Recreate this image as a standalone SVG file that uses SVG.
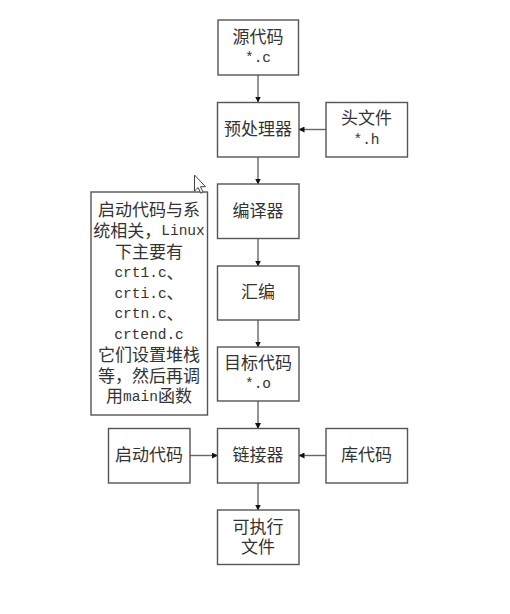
<svg xmlns="http://www.w3.org/2000/svg" width="510" height="614" viewBox="0 0 510 614">
<style>
.box{fill:#fff;stroke:#555;stroke-width:1.4}
.t{font-family:"Liberation Serif","Noto Sans CJK SC",serif;font-size:17px;fill:#333;text-anchor:middle;dominant-baseline:central}
.m{font-family:"Liberation Mono","Noto Sans CJK SC",monospace;font-size:14.5px}
.c{stroke:#666;stroke-width:1.4;fill:none;marker-end:url(#ah)}
</style>
<defs>
<marker id="ah" markerWidth="6" markerHeight="6" refX="5.5" refY="3" orient="auto" markerUnits="userSpaceOnUse">
<path d="M0,0 L6,3 L0,6 Z" fill="#111"/>
</marker>
</defs>
<rect width="510" height="614" fill="#fff"/>
<g id="connectors">
<line class="c" x1="258" y1="75" x2="258" y2="102"/>
<line class="c" x1="326" y1="129.5" x2="299" y2="129.5"/>
<line class="c" x1="258" y1="157" x2="258" y2="184"/>
<line class="c" x1="258" y1="238" x2="258" y2="266"/>
<line class="c" x1="258" y1="320" x2="258" y2="347"/>
<line class="c" x1="258" y1="401" x2="258" y2="428.5"/>
<line class="c" x1="190" y1="455.5" x2="217.5" y2="455.5"/>
<line class="c" x1="326" y1="455.5" x2="299" y2="455.5"/>
<line class="c" x1="258" y1="483" x2="258" y2="510"/>
</g>
<g id="n-src">
<rect class="box" x="218" y="20" width="80.5" height="55"/>
<text class="t" x="258" y="37">源代码</text>
<text class="t m" x="258" y="58">*.c</text>
</g>
<g id="n-pre">
<rect class="box" x="217.5" y="102.5" width="81.5" height="54.5"/>
<text class="t" x="258" y="129.5">预处理器</text>
</g>
<g id="n-hdr">
<rect class="box" x="326" y="102.5" width="81.5" height="54.5"/>
<text class="t" x="366.5" y="118.5">头文件</text>
<text class="t m" x="366.5" y="139.5">*.h</text>
</g>
<g id="n-cc">
<rect class="box" x="217.5" y="184" width="81.5" height="54.5"/>
<text class="t" x="258" y="211">编译器</text>
</g>
<g id="n-as">
<rect class="box" x="217.5" y="266" width="81.5" height="54"/>
<text class="t" x="258" y="292.5">汇编</text>
</g>
<g id="n-obj">
<rect class="box" x="217.5" y="347" width="81.5" height="54"/>
<text class="t" x="258" y="363">目标代码</text>
<text class="t m" x="258" y="384">*.o</text>
</g>
<g id="n-ld">
<rect class="box" x="217.5" y="428.5" width="81.5" height="54.5"/>
<text class="t" x="258" y="455.5">链接器</text>
</g>
<g id="n-start">
<rect class="box" x="108.5" y="428.5" width="81.5" height="54.5"/>
<text class="t" x="149" y="455.5">启动代码</text>
</g>
<g id="n-lib">
<rect class="box" x="326" y="428.5" width="81.5" height="54.5"/>
<text class="t" x="366.5" y="455.5">库代码</text>
</g>
<g id="n-exe">
<rect class="box" x="217.5" y="510" width="81.5" height="54.5"/>
<text class="t" x="258" y="527">可执行</text>
<text class="t" x="258" y="547">文件</text>
</g>
<g id="n-note">
<rect class="box" x="91" y="192" width="116.5" height="223"/>
<text class="t" x="149" y="210">启动代码与系</text>
<text class="t" x="149" y="231">统相关，<tspan class="m">Linux</tspan></text>
<text class="t" x="149" y="252">下主要有</text>
<text class="t" x="149" y="273"><tspan class="m">crt1.c</tspan>、</text>
<text class="t" x="149" y="293.5"><tspan class="m">crti.c</tspan>、</text>
<text class="t" x="149" y="314"><tspan class="m">crtn.c</tspan>、</text>
<text class="t" x="149" y="334.5"><tspan class="m">crtend.c</tspan></text>
<text class="t" x="149" y="355">它们设置堆栈</text>
<text class="t" x="149" y="376">等，然后再调</text>
<text class="t" x="149" y="396.5">用<tspan class="m">main</tspan>函数</text>
</g>
<g id="cursor">
<path d="M194.5,175 L194.5,191 L198.2,187.6 L200.8,193.2 L203,192.2 L200.5,186.7 L205.5,186.7 Z" fill="#fff" stroke="#444" stroke-width="1"/>
</g>
</svg>
